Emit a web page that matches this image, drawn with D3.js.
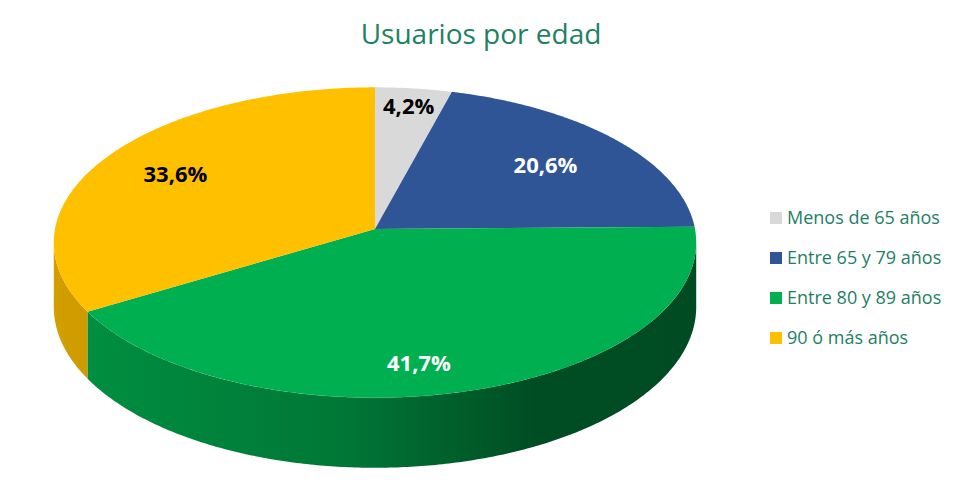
<!DOCTYPE html>
<html>
<head>
<meta charset="utf-8">
<script src="https://cdn.jsdelivr.net/npm/d3@7"></script>
<style>
  body { margin: 0; background: #fff; }
  svg { display: block; font-family: "Open Sans", Lato, sans-serif; }
</style>
</head>
<body>
<div id="chart"></div>
<script>
// Data
var categories = ["Menos de 65 años", "Entre 65 y 79 años", "Entre 80 y 89 años", "90 ó más años"];
var values = [4.2, 20.6, 41.7, 33.6];
var colors = ["#d9d9d9", "#2f5597", "#00b050", "#ffc000"];
var labelColors = ["#000", "#fff", "#fff", "#000"];

var svgWidth = 959;
var svgHeight = 492;

// 3D pie geometry (perspective tilt)
var cx = 375, cy = 229;
var R = 320, Ry = 154;
var k = 0.087;      // perspective strength
var depth = 64;     // thickness of the pie

var esFormat = d3.formatLocale({ decimal: ",", thousands: ".", grouping: [3], currency: ["", "€"] }).format(".1f");

var svg = d3.select("#chart")
  .append("svg")
  .attr("width", svgWidth)
  .attr("height", svgHeight);

// project a point of the unit disc (angle from 12 o'clock, clockwise)
function proj(a, r, drop) {
  var u = r * Math.sin(a), v = -r * Math.cos(a);
  var s = 1 / (1 - k * v);
  return [cx + R * u * s, cy + (Ry * v + (drop || 0)) * s];
}

var pie = d3.pie().sort(null).value(d => d);
var arcs = pie(values);

// visible front part of the rim: between the horizontal extremes
var samples = d3.range(0, 2 * Math.PI, 0.001);
var aRight = samples[d3.maxIndex(samples, a => proj(a, 1)[0])];
var aLeft = samples[d3.minIndex(samples, a => proj(a, 1)[0])];

var defs = svg.append("defs");
colors.forEach(function(c, i) {
  var g = defs.append("linearGradient")
    .attr("id", "side" + i)
    .attr("gradientUnits", "userSpaceOnUse")
    .attr("x1", cx - R).attr("x2", cx + R)
    .attr("y1", 0).attr("y2", 0);
  g.append("stop").attr("offset", "0%").attr("stop-color", d3.color(c).darker(0.55));
  g.append("stop").attr("offset", "45%").attr("stop-color", d3.color(c).darker(1.1));
  g.append("stop").attr("offset", "75%").attr("stop-color", d3.color(c).darker(2.3));
  g.append("stop").attr("offset", "100%").attr("stop-color", d3.color(c).darker(2.4));
});

var step = 0.01;

function sidePath(d) {
  var a0 = Math.max(d.startAngle, aRight);
  var a1 = Math.min(d.endAngle, aLeft);
  if (a1 <= a0) return null;
  var top = d3.range(a0, a1, step).concat([a1]);
  var pts = top.map(a => proj(a, 1, 0));
  var bottom = top.slice().reverse().map(a => proj(a, 1, depth));
  return "M" + pts.concat(bottom).map(p => p.join(",")).join("L") + "Z";
}

function topPath(d) {
  var angles = d3.range(d.startAngle, d.endAngle, step).concat([d.endAngle]);
  var pts = [proj(0, 0)].concat(angles.map(a => proj(a, 1)));
  return "M" + pts.map(p => p.join(",")).join("L") + "Z";
}

var pieGroup = svg.append("g");

pieGroup.selectAll(".side")
  .data(arcs)
  .enter()
  .append("path")
  .attr("class", "side")
  .attr("d", sidePath)
  .attr("fill", (d, i) => "url(#side" + i + ")");

pieGroup.selectAll(".slice")
  .data(arcs)
  .enter()
  .append("path")
  .attr("class", "slice")
  .attr("d", topPath)
  .attr("fill", (d, i) => colors[i]);

// data labels (radius and angle shift as fractions, to sit where the original puts them)
var labelR = [0.86, 0.7, 0.82, 0.74];
var labelShift = [0, 0, 0.12, 0];
function labelPos(d, i) {
  var a = (d.startAngle + d.endAngle) / 2 + labelShift[i];
  return proj(a, labelR[i]);
}
pieGroup.selectAll(".label")
  .data(arcs)
  .enter()
  .append("text")
  .attr("class", "label")
  .attr("x", (d, i) => labelPos(d, i)[0])
  .attr("y", (d, i) => labelPos(d, i)[1])
  .attr("dy", "0.35em")
  .attr("text-anchor", "middle")
  .attr("font-size", 22)
  .attr("font-weight", "bold")
  .attr("fill", (d, i) => labelColors[i])
  .text(d => esFormat(d.data) + "%");

// title
svg.append("text")
  .attr("x", 481)
  .attr("y", 44)
  .attr("text-anchor", "middle")
  .attr("font-size", 28)
  .attr("fill", "#1e8064")
  .text("Usuarios por edad");

// legend
var legend = svg.append("g")
  .attr("transform", "translate(770, 218)");

var rows = legend.selectAll(".legendRow")
  .data(categories)
  .enter()
  .append("g")
  .attr("class", "legendRow")
  .attr("transform", (d, i) => `translate(0, ${i * 40})`);

rows.append("rect")
  .attr("x", 0)
  .attr("y", -6)
  .attr("width", 12)
  .attr("height", 12)
  .attr("fill", (d, i) => colors[i]);

rows.append("text")
  .attr("x", 17)
  .attr("y", 0)
  .attr("dy", "0.35em")
  .attr("font-size", 18)
  .attr("fill", "#1e8064")
  .text(d => d);
</script>
</body>
</html>
